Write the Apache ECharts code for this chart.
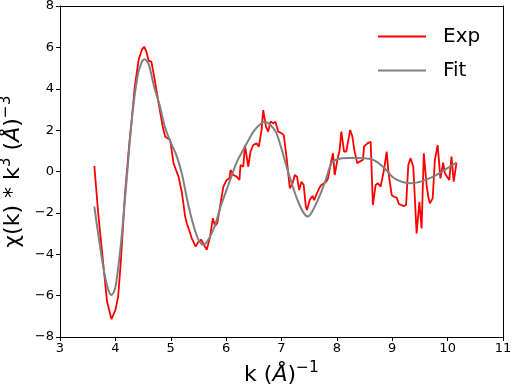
<!DOCTYPE html>
<html>
<head>
<meta charset="utf-8">
<script src="https://cdn.jsdelivr.net/npm/echarts@6/dist/echarts.min.js"></script>
<style>html,body{margin:0;padding:0;background:#fff}#c{width:512px;height:386px}</style>
</head>
<body>
<div id="c"></div>
<script>
const expK = [3.62,3.69,3.78,3.85,3.93,4.0,4.05,4.1,4.17,4.25,4.29,4.35,4.42,4.48,4.52,4.56,4.6,4.65,4.7,4.8,4.86,4.9,4.95,4.99,5.05,5.14,5.2,5.26,5.29,5.38,5.45,5.5,5.55,5.6,5.65,5.68,5.71,5.76,5.8,5.84,5.89,5.95,6.01,6.06,6.08,6.13,6.19,6.24,6.26,6.31,6.34,6.40,6.44,6.49,6.55,6.59,6.64,6.67,6.72,6.76,6.80,6.85,6.89,6.94,7.00,7.04,7.09,7.15,7.20,7.24,7.28,7.32,7.36,7.40,7.44,7.46,7.51,7.56,7.59,7.64,7.68,7.72,7.77,7.81,7.84,7.89,7.93,7.96,8.01,8.05,8.08,8.13,8.17,8.24,8.28,8.32,8.37,8.41,8.47,8.49,8.55,8.61,8.65,8.70,8.74,8.79,8.85,8.90,8.93,8.99,9.03,9.08,9.12,9.21,9.25,9.29,9.33,9.38,9.44,9.49,9.53,9.57,9.62,9.65,9.68,9.73,9.77,9.82,9.87,9.92,9.95,9.99,10.03,10.07,10.11,10.16];
const expY = [0.27,-2.02,-4.44,-6.3,-7.14,-6.7,-6.05,-4.3,-1.22,1.3,2.33,4.1,5.4,5.9,6.03,5.8,5.35,5.31,4.6,3.0,2.1,1.68,1.6,1.52,0.4,-0.25,-1.0,-2.18,-2.5,-3.23,-3.63,-3.39,-3.3,-3.55,-3.79,-3.75,-3.15,-2.26,-2.63,-2.5,-1.7,-0.73,-0.41,-0.33,0.07,-0.17,-0.25,-0.41,0.31,0.23,1.28,0.23,0.96,1.28,1.36,1.2,2.0,2.97,2.16,1.93,2.41,2.33,2.41,1.93,1.85,1.77,0.72,-0.81,-0.57,-0.17,-0.25,-0.9,-0.49,-0.65,-1.7,-1.86,-1.38,-1.18,-1.38,-1.06,-0.81,-0.65,-0.57,-0.49,-0.33,0.4,0.88,-0.17,0.56,1.04,1.93,0.96,0.96,2.01,1.69,0.96,0.4,0.48,0.56,1.2,1.36,1.44,-1.62,-0.65,-0.57,-0.73,0.07,0.96,0.0,-1.14,-1.22,-1.26,-1.57,-1.67,-1.62,0.31,0.64,0.23,-2.99,-1.46,-2.75,0.88,-0.65,-1.22,-1.54,-1.3,0.56,1.28,-0.33,0.43,-0.09,-0.25,-0.41,0.72,-0.49,0.43];
const fitK = [3.62,3.7,3.8,3.87,3.93,4.0,4.1,4.2,4.3,4.4,4.47,4.53,4.6,4.7,4.8,4.9,5.0,5.1,5.2,5.3,5.4,5.5,5.59,5.7,5.8,5.9,6.0,6.1,6.2,6.3,6.4,6.5,6.6,6.7,6.8,6.9,7.0,7.1,7.2,7.3,7.4,7.48,7.55,7.6,7.7,7.8,7.9,8.0,8.2,8.4,8.6,8.7,8.8,8.9,9.0,9.1,9.2,9.35,9.5,9.7,9.9,10.05,10.16];
const fitY = [-1.7,-3.2,-4.9,-5.7,-5.97,-5.6,-3.5,-0.5,2.6,4.6,5.25,5.42,5.2,4.1,3.2,2.1,1.4,0.8,-0.1,-1.4,-2.5,-3.3,-3.55,-3.2,-2.6,-1.7,-0.95,-0.2,0.5,1.0,1.5,1.95,2.25,2.41,2.25,1.9,1.1,0.15,-0.7,-1.45,-2.0,-2.18,-1.95,-1.7,-1.1,-0.4,0.4,0.58,0.65,0.65,0.6,0.5,0.3,0.05,-0.25,-0.42,-0.52,-0.57,-0.5,-0.3,0.0,0.25,0.43];
const xTicks = [3,4,5,6,7,8,9,10,11];
const yTicks = [-8,-6,-4,-2,0,2,4,6,8];

const FONT = 'DejaVu Sans';
const chart = echarts.init(document.getElementById('c'), null, {renderer:'canvas'});
const pair = (ks, ys) => ks.map((k,i)=>[k, ys[i]]);
const fmt = v => String(v).replace('-', '\u2212');
const xMin = xTicks[0], xMax = xTicks[xTicks.length-1];
const yMin = yTicks[0], yMax = yTicks[yTicks.length-1];
const rich = {
  a: {fontFamily: FONT, fontSize: 22, color: '#000', lineHeight: 26, verticalAlign: 'bottom'},
  i: {fontFamily: FONT, fontSize: 22, color: '#000', fontStyle: 'italic', lineHeight: 26, verticalAlign: 'bottom'},
  s: {fontFamily: FONT, fontSize: 15.5, color: '#000', lineHeight: 26, verticalAlign: 'top'}
};
const frameAxis = {
  axisLine: {show: true, onZero: false, lineStyle: {color: '#000', width: 1}},
  axisTick: {show: false}, axisLabel: {show: false}, splitLine: {show: false}
};
chart.setOption({
  animation: false,
  backgroundColor: '#fff',
  grid: {left: 60, right: 9, top: 6, bottom: 49, containLabel: false, outerBoundsMode: 'none'},
  legend: {
    orient: 'vertical', left: 373, top: 21, itemWidth: 48, itemHeight: 14, itemGap: 13,
    icon: 'path://M0,0 L48,0 L48,2 L0,2 Z',
    textStyle: {fontFamily: FONT, fontSize: 20, color: '#000', padding: [0,0,0,12], lineHeight: 21},
    data: ['Exp','Fit']
  },
  xAxis: [{
    type: 'value', min: xMin, max: xMax, interval: 1, position: 'bottom',
    axisLine: {show: true, onZero: false, lineStyle: {color: '#000', width: 1}},
    axisTick: {show: true, length: 4, lineStyle: {color: '#000'}},
    axisLabel: {fontFamily: FONT, fontSize: 13, color: '#000', margin: 5, formatter: fmt},
    splitLine: {show: false},
    name: '{a|k (}{i|Å}{a|)}{s|\u22121}',
    nameLocation: 'middle', nameGap: 23,
    nameTextStyle: {rich: rich}
  }, Object.assign({type: 'value', min: xMin, max: xMax, position: 'top'}, frameAxis)],
  yAxis: [{
    type: 'value', min: yMin, max: yMax, interval: 2, position: 'left',
    axisLine: {show: true, onZero: false, lineStyle: {color: '#000', width: 1}},
    axisTick: {show: true, length: 4, lineStyle: {color: '#000'}},
    axisLabel: {fontFamily: FONT, fontSize: 13, color: '#000', margin: 6, formatter: fmt},
    splitLine: {show: false},
    name: '{a|χ(k) * k}{s|3}{a| (}{i|Å}{a|)}{s|\u22123}',
    nameLocation: 'middle', nameGap: 28,
    nameTextStyle: {rich: rich}
  }, Object.assign({type: 'value', min: yMin, max: yMax, position: 'right'}, frameAxis)],
  series: [
    {name: 'Exp', type: 'line', data: pair(expK, expY), showSymbol: false, symbol: 'none',
     lineStyle: {color: '#ff0000', width: 1.8}, itemStyle: {color: '#ff0000'}, z: 2},
    {name: 'Fit', type: 'line', data: pair(fitK, fitY), showSymbol: false, symbol: 'none', smooth: 0.3,
     lineStyle: {color: '#808080', width: 2}, itemStyle: {color: '#808080'}, z: 3}
  ]
});
</script>
</body>
</html>
